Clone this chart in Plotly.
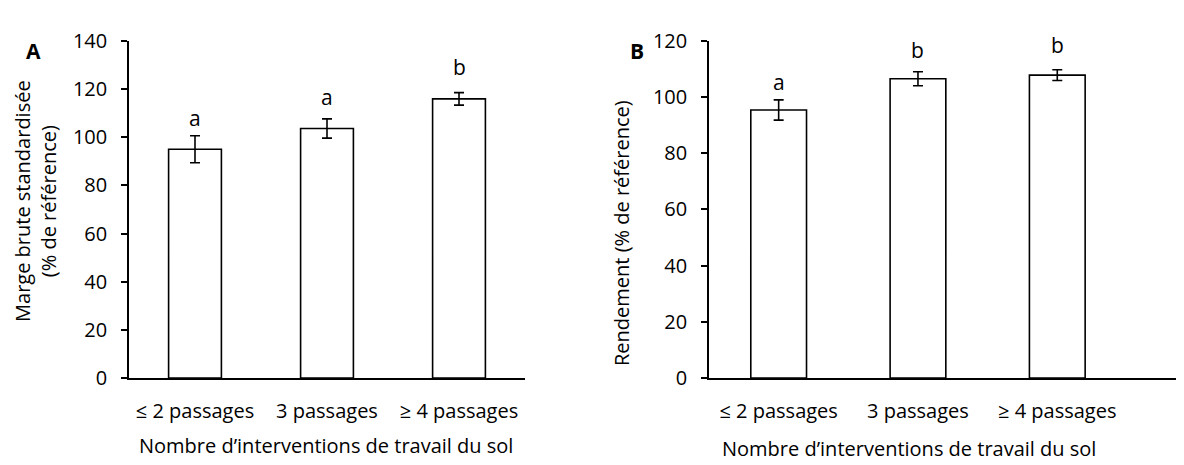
import plotly.graph_objects as go

categories = ["≤ 2 passages", "3 passages", "≥ 4 passages"]

# Panel A: Marge brute standardisée
marge_values = [95.0, 103.6, 115.9]
marge_errors = [5.6, 4.0, 2.6]
marge_letters = ["a", "a", "b"]
marge_letter_y = [108.1, 116.5, 129.1]

# Panel B: Rendement
rend_values = [95.4, 106.5, 107.8]
rend_errors = [3.6, 2.5, 1.9]
rend_letters = ["a", "b", "b"]
rend_letter_y = [105.4, 116.6, 118.6]

FONT = "Open Sans"
W, H = 1184, 465
FS = 20

fig = go.Figure()

bar_style = dict(marker=dict(color="white", line=dict(color="black", width=1.6)),
                 width=0.4, showlegend=False, hoverinfo="skip")
err_style = dict(type="data", visible=True, color="black", thickness=1.6, width=5)

fig.add_trace(go.Bar(x=categories, y=marge_values,
                     error_y=dict(array=marge_errors, **err_style),
                     xaxis="x", yaxis="y", **bar_style))
fig.add_trace(go.Bar(x=categories, y=rend_values,
                     error_y=dict(array=rend_errors, **err_style),
                     xaxis="x2", yaxis="y2", **bar_style))

ydom = [1 - 378 / H, 1 - 20 / H]
axis_font = dict(family=FONT, size=FS, color="black")

common_x = dict(showline=True, linecolor="black", linewidth=1.6, ticks="",
                showgrid=False, zeroline=False, tickfont=axis_font,
                categoryorder="array", categoryarray=categories, ticklabelstandoff=14)
common_y = dict(showline=True, linecolor="black", linewidth=1.6, ticks="outside",
                ticklen=6, tickwidth=1.6, tickcolor="black", showgrid=False,
                zeroline=False, tickfont=axis_font, dtick=20, ticklabelstandoff=10)

fig.update_layout(
    width=W, height=H,
    margin=dict(l=0, r=0, t=0, b=0),
    paper_bgcolor="white", plot_bgcolor="white",
    font=dict(family=FONT, color="black"),
    xaxis=dict(domain=[121 / W, 517 / W], range=[-0.5, 2.5], anchor="y", **common_x),
    yaxis=dict(domain=ydom, range=[0, 140], anchor="x", **common_y),
    xaxis2=dict(domain=[701 / W, 1.0], range=[-0.5, 2.967], anchor="y2", **common_x),
    yaxis2=dict(domain=ydom, range=[0, 120], anchor="x2", **common_y),
)

annotations = []
for cat, ly, lt in zip(categories, marge_letter_y, marge_letters):
    annotations.append(dict(x=cat, y=ly, xref="x", yref="y", text=lt, showarrow=False,
                            font=dict(family=FONT, size=21, color="black"),
                            yanchor="middle"))
for cat, ly, lt in zip(categories, rend_letter_y, rend_letters):
    annotations.append(dict(x=cat, y=ly, xref="x2", yref="y2", text=lt, showarrow=False,
                            font=dict(family=FONT, size=21, color="black"),
                            yanchor="middle"))

# Panel letters
annotations.append(dict(x=25 / W, y=1 - 31 / H, xref="paper", yref="paper", text="<b>A</b>",
                        showarrow=False, font=dict(family=FONT, size=21, color="black"),
                        xanchor="center", yanchor="middle"))
annotations.append(dict(x=629 / W, y=1 - 31 / H, xref="paper", yref="paper", text="<b>B</b>",
                        showarrow=False, font=dict(family=FONT, size=21, color="black"),
                        xanchor="center", yanchor="middle"))

# Axis titles
annotations.append(dict(x=28 / W, y=1 - 190 / H, xref="paper", yref="paper",
                        text="Marge brute standardisée<br>(% de référence)",
                        textangle=-90, showarrow=False,
                        font=dict(family=FONT, size=FS, color="black"),
                        xanchor="center", yanchor="middle"))
annotations.append(dict(x=614 / W, y=1 - 224 / H, xref="paper", yref="paper",
                        text="Rendement (% de référence)",
                        textangle=-90, showarrow=False,
                        font=dict(family=FONT, size=FS, color="black"),
                        xanchor="center", yanchor="middle"))
annotations.append(dict(x=318 / W, y=1 - 450 / H, xref="paper", yref="paper",
                        text="Nombre d’interventions de travail du sol", showarrow=False,
                        font=dict(family=FONT, size=FS, color="black"),
                        xanchor="center", yanchor="middle"))
annotations.append(dict(x=901 / W, y=1 - 453 / H, xref="paper", yref="paper",
                        text="Nombre d’interventions de travail du sol", showarrow=False,
                        font=dict(family=FONT, size=FS, color="black"),
                        xanchor="center", yanchor="middle"))

fig.update_layout(annotations=annotations)

fig.write_html("out.html")
